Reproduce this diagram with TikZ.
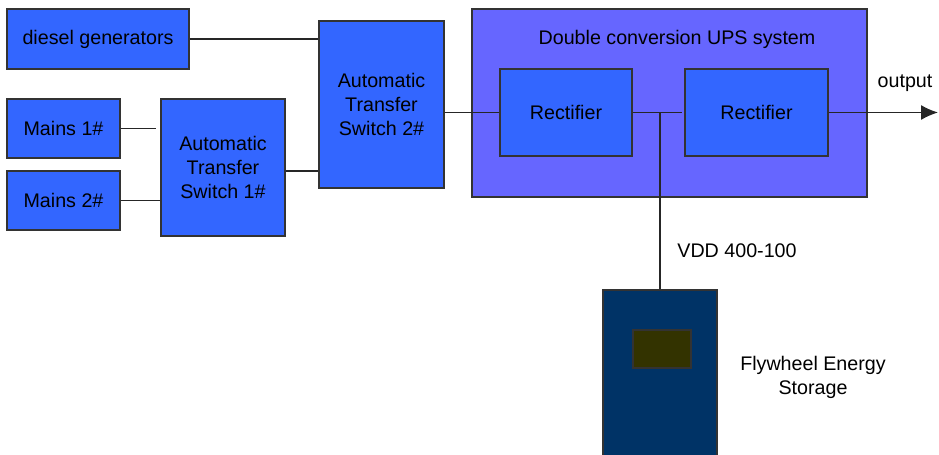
\documentclass[tikz,border=0pt]{standalone}
\usepackage{fontspec}
\setmainfont{Liberation Sans}
\usetikzlibrary{arrows.meta}
\definecolor{blkblue}{HTML}{3366FF}
\definecolor{upsblue}{HTML}{6666FF}
\definecolor{flynavy}{HTML}{003366}
\definecolor{flyolive}{HTML}{333300}
\def\pxu{0.02cm}
\tikzset{
  blk/.style={draw=black!80, fill=blkblue, line width=0.6pt, inner sep=0pt, align=center,
    font=\fontsize{11.2}{13.9}\selectfont},
  txt/.style={inner sep=0pt, align=center, font=\fontsize{11.2}{13.6}\selectfont},
  wire/.style={draw=black!85, line width=0.8pt},
}
\begin{document}
\begin{tikzpicture}[x=0.02cm,y=-0.02cm]
\useasboundingbox (0,0) rectangle (939,455);
\node[blk, minimum width=182*\pxu, minimum height=60*\pxu] (diesel) at (98,39) {diesel generators};
\node[blk, minimum width=113*\pxu, minimum height=59*\pxu] (mainsa) at (63.5,128.5) {Mains 1\#};
\node[blk, minimum width=113*\pxu, minimum height=59*\pxu] (mainsb) at (63.5,200.5) {Mains 2\#};
\node[blk, minimum width=124*\pxu, minimum height=137*\pxu] (atsa) at (223,167.5) {Automatic\\Transfer\\Switch 1\#};
\node[blk, minimum width=125*\pxu, minimum height=167*\pxu] (atsb) at (381.5,104.5) {Automatic\\Transfer\\Switch 2\#};
\node[blk, fill=upsblue, minimum width=395*\pxu, minimum height=188*\pxu] (ups) at (669.5,103) {};
\node[txt] (upstitle) at (677,39) {Double conversion UPS system};
\node[blk, minimum width=132*\pxu, minimum height=87*\pxu] (recta) at (566,112.5) {Rectifier};
\node[blk, minimum width=143*\pxu, minimum height=87*\pxu] (rectb) at (756.5,112.5) {Rectifier};
\node[blk, fill=flynavy, minimum width=114*\pxu, minimum height=172*\pxu] (fly) at (660,376) {};
\node[blk, fill=flyolive, minimum width=58*\pxu, minimum height=38*\pxu] (flyin) at (662,349) {};
\node[txt] (vdd) at (737,251) {VDD 400-100};
\node[txt] (flylabel) at (813,377) {Flywheel Energy\\Storage};
\node[txt] (outlabel) at (905,83) {output};

\coordinate (j) at (302,171);
\coordinate (out) at (938,112.5);
\coordinate (jn) at (660,112.5);

\draw[wire] (diesel.east) -- (diesel.east -| atsb.west)
  (mainsa.east) -- ([xshift=-4*\pxu]mainsa.east -| atsa.west)
  (mainsb.east) -- (mainsb.east -| atsa.west)
  (atsa.east |- j) -- (atsb.west |- j)
  (atsb.east |- recta.west) -- (recta.west)
  (recta.east) -- ([xshift=-2*\pxu]rectb.west)
  (jn) -- (fly.north);
\draw[wire, -{Latex[length=0.34cm, width=0.3cm]}] (rectb.east) -- (out);

\end{tikzpicture}
\end{document}
